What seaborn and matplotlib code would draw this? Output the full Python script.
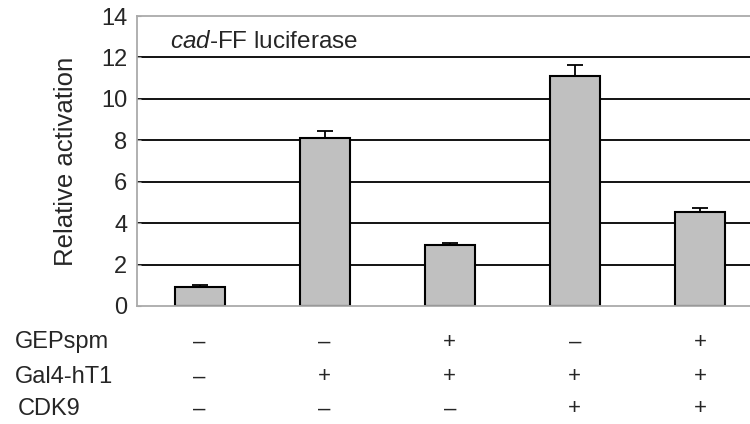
import matplotlib
matplotlib.use("Agg")
import matplotlib.pyplot as plt
import matplotlib.transforms as mtransforms
import seaborn as sns
import pandas as pd

# ---- data ----
conditions = ["c1", "c2", "c3", "c4", "c5"]
activation = [0.92, 8.11, 2.95, 11.09, 4.52]
errors = [0.08, 0.34, 0.09, 0.55, 0.23]
yticks = [0, 2, 4, 6, 8, 10, 12, 14]
row_labels = ["GEPspm", "Gal4-hT1", "CDK9"]
GEPspm = ["\u2013", "\u2013", "+", "\u2013", "+"]
Gal4_hT1 = ["\u2013", "+", "+", "+", "+"]
CDK9 = ["\u2013", "\u2013", "\u2013", "+", "+"]
ylabel = "Relative activation"
title = r"$\it{cad}$-FF luciferase"

sns.set_style("white")
plt.rcParams["font.family"] = ["Liberation Sans", "DejaVu Sans"]
plt.rcParams["mathtext.fontset"] = "custom"
plt.rcParams["mathtext.it"] = "Liberation Sans:italic"
plt.rcParams["mathtext.rm"] = "Liberation Sans"

df = pd.DataFrame({"cond": conditions, "val": activation})

fig = plt.figure(figsize=(7.5, 4.24), dpi=100)
ax = fig.add_axes([137/750, 1-306/424, 1-137/750, (306-16)/424])

for y in yticks[1:-1]:
    ax.axhline(y, color="black", lw=1.3, zorder=0)

sns.barplot(data=df, x="cond", y="val", order=conditions, color="#c0c0c0",
            edgecolor="black", linewidth=1.5, width=0.4, errorbar=None,
            saturation=1, ax=ax, zorder=2)

xs = list(range(len(conditions)))
ax.errorbar(xs, activation, yerr=[[0]*len(errors), errors], fmt="none",
            ecolor="black", elinewidth=1.3, capsize=5.5, capthick=1.3, zorder=1)

ax.set_xlim(-0.5, 4.4)
ax.set_ylim(0, 14)
ax.set_yticks(yticks)
ax.set_xticks([])
ax.set_xlabel("")
ax.set_ylabel(ylabel, fontsize=18.5)
ax.yaxis.set_label_coords(-0.097, 0.5)
ax.tick_params(axis="y", direction="in", length=3, color="#999999",
               labelsize=17, pad=7, left=True)

for s in ["left", "bottom", "top"]:
    ax.spines[s].set_color("#aaaaaa")
    ax.spines[s].set_linewidth(1.3)
ax.spines["right"].set_visible(False)

ax.text(0.054, 12.75, title, transform=mtransforms.blended_transform_factory(ax.transAxes, ax.transData),
        fontsize=17.5, va="center", ha="left")

trans = mtransforms.blended_transform_factory(ax.transData, fig.transFigure)
rows = [GEPspm, Gal4_hT1, CDK9]
row_y = [1-342/424, 1-377/424, 1-409/424]
label_x = [15/750, 15/750, 18/750]
for lab, lx, ry, signs in zip(row_labels, label_x, row_y, rows):
    fig.text(lx, ry, lab, fontsize=17, va="center", ha="left")
    for xi, s in zip(xs, signs):
        ax.text(xi, ry, s, transform=trans, fontsize=16, va="center", ha="center")

fig.savefig("out.png", dpi=100)
